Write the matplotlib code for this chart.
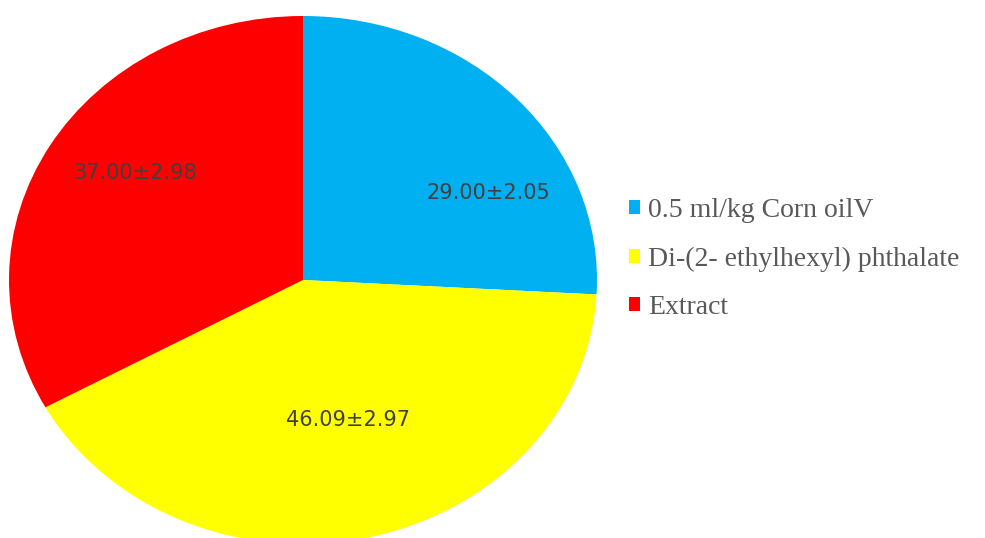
import matplotlib
matplotlib.use("Agg")
import matplotlib.pyplot as plt
from matplotlib.patches import Patch

categories = ["0.5 ml/kg Corn oilV", "Di-(2- ethylhexyl) phthalate", "Extract"]
values = [29.00, 46.09, 37.00]
errors = [2.05, 2.97, 2.98]
colors = ["#00B0F0", "#FFFF00", "#FF0000"]

W, H = 985, 538
fig = plt.figure(figsize=(W / 100, H / 100), dpi=100)
cx, cy, rx, ry = 303, 280, 294, 264
ax = fig.add_axes([(cx - rx) / W, (H - cy - ry) / H, 2 * rx / W, 2 * ry / H])
wedges, _ = ax.pie(values, colors=colors, startangle=90, counterclock=False,
                   radius=1, wedgeprops=dict(linewidth=0))
ax.set_aspect("auto")
ax.set_xlim(-1, 1)
ax.set_ylim(-1, 1)
ax.axis("off")

label_pos = [(0.629, 0.33), (0.153, -0.53), (-0.571, 0.405)]
for (x, y), v, e in zip(label_pos, values, errors):
    ax.text(x, y, f"{v:.2f}±{e:.2f}", ha="center", va="center",
            fontsize=15, color="#404040", family=["DejaVu Sans"])

handles = [Patch(facecolor=c, edgecolor="none") for c in colors]
fig.legend(handles, categories, loc="center left",
           bbox_to_anchor=(604 / W, (H - 259) / H), frameon=False,
           prop=dict(family="Liberation Serif", size=20),
           labelcolor="#595959", handlelength=0.4, handleheight=0.4,
           handletextpad=0.3, labelspacing=0.84)

fig.savefig("out.png", dpi=100)
